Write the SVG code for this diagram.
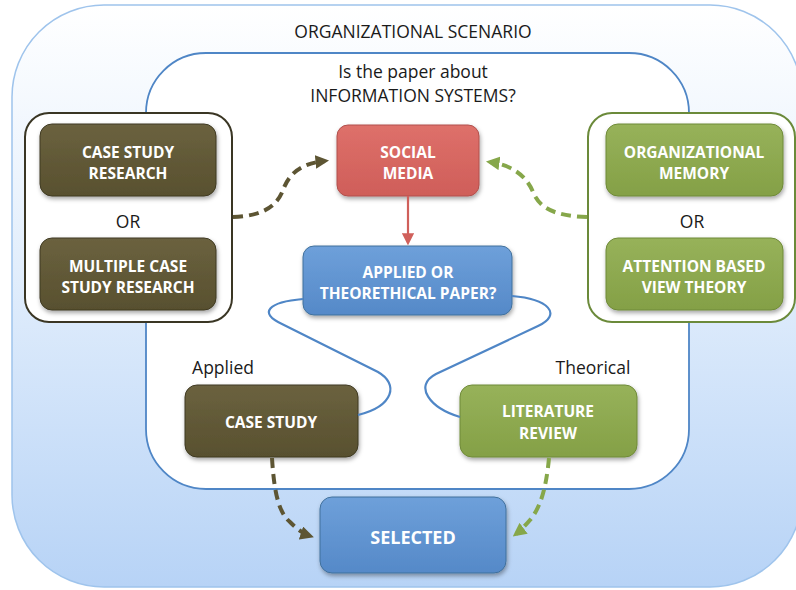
<svg xmlns="http://www.w3.org/2000/svg" width="796" height="590" viewBox="0 0 796 590">
<style>
.lbl{font-family:"Open Sans","Liberation Sans",sans-serif;font-size:17.5px;fill:#1a1a1a;text-anchor:middle}
.bt{font-family:"Open Sans","Liberation Sans",sans-serif;font-weight:bold;font-size:15.5px;fill:#ffffff;text-anchor:middle}
.dark{fill:url(#gDark);stroke:#3f3a22;stroke-width:1}
.green{fill:url(#gGreen);stroke:#6f8a38;stroke-width:1}
.blue{fill:url(#gBlue);stroke:#41719c;stroke-width:1}
.red{fill:url(#gRed);stroke:#b0504c;stroke-width:1}
.curve{fill:none;stroke:#4f86c6;stroke-width:2.2}
.dd{fill:none;stroke:#5d5533;stroke-width:4;stroke-dasharray:10 6}
.dg{fill:none;stroke:#86a74a;stroke-width:4;stroke-dasharray:10 6}
</style>
<defs>
<linearGradient id="gOuter" x1="0" y1="0" x2="0" y2="1">
<stop offset="0" stop-color="#ffffff"/><stop offset="0.45" stop-color="#e2eefc"/><stop offset="1" stop-color="#b7d3f6"/>
</linearGradient>
<linearGradient id="gDark" x1="0" y1="0" x2="0" y2="1"><stop offset="0" stop-color="#6b623f"/><stop offset="1" stop-color="#58502f"/></linearGradient>
<linearGradient id="gGreen" x1="0" y1="0" x2="0" y2="1"><stop offset="0" stop-color="#97b25a"/><stop offset="1" stop-color="#84a046"/></linearGradient>
<linearGradient id="gBlue" x1="0" y1="0" x2="0" y2="1"><stop offset="0" stop-color="#6ea0da"/><stop offset="1" stop-color="#5589c8"/></linearGradient>
<linearGradient id="gRed" x1="0" y1="0" x2="0" y2="1"><stop offset="0" stop-color="#de706a"/><stop offset="1" stop-color="#cf5e59"/></linearGradient>
<filter id="sh" x="-10%" y="-10%" width="125%" height="135%"><feDropShadow dx="1" dy="2.5" stdDeviation="2" flood-color="#000" flood-opacity="0.35"/></filter>
<marker id="aD" viewBox="0 0 10 10" refX="7" refY="5" markerWidth="3.4" markerHeight="3.4" orient="auto" markerUnits="strokeWidth"><path d="M0,0 L10,5 L0,10 Z" fill="#5d5533"/></marker>
<marker id="aG" viewBox="0 0 10 10" refX="7" refY="5" markerWidth="3.4" markerHeight="3.4" orient="auto" markerUnits="strokeWidth"><path d="M0,0 L10,5 L0,10 Z" fill="#86a74a"/></marker>
<marker id="aR" viewBox="0 0 10 10" refX="8" refY="5" markerWidth="5.5" markerHeight="5.5" orient="auto" markerUnits="strokeWidth"><path d="M0,0 L10,5 L0,10 Z" fill="#d0605b"/></marker>
</defs>

<g id="scenario">
<rect x="12" y="5" width="790" height="582" rx="92" fill="url(#gOuter)" stroke="#9fc4ec" stroke-width="1.5"/>
<text class="lbl" x="413" y="38">ORGANIZATIONAL SCENARIO</text>
</g>
<g id="infosys">
<rect x="146" y="53" width="543" height="436" rx="60" fill="#ffffff" stroke="#4f86c6" stroke-width="1.8"/>
<text class="lbl" x="413" y="78">Is the paper about</text>
<text class="lbl" x="413" y="102">INFORMATION SYSTEMS?</text>
</g>

<g id="leftgroup">
<rect x="25" y="113" width="207" height="209" rx="24" fill="#ffffff" stroke="#3a3624" stroke-width="2"/>
<text class="lbl" x="128" y="228">OR</text>
</g>
<g id="csr"><rect class="dark" filter="url(#sh)" x="40" y="124" width="176" height="72" rx="12"/>
<text class="bt" x="128" y="158">CASE STUDY</text><text class="bt" x="128" y="179">RESEARCH</text></g>
<g id="mcsr"><rect class="dark" filter="url(#sh)" x="40" y="238" width="176" height="72" rx="12"/>
<text class="bt" x="128" y="272">MULTIPLE CASE</text><text class="bt" x="128" y="293">STUDY RESEARCH</text></g>

<g id="rightgroup">
<rect x="588" y="113" width="207" height="209" rx="24" fill="#ffffff" stroke="#6b8a3a" stroke-width="2"/>
<text class="lbl" x="692" y="228">OR</text>
</g>
<g id="orgmem"><rect class="green" filter="url(#sh)" x="606" y="124" width="177" height="72" rx="12"/>
<text class="bt" x="694" y="158">ORGANIZATIONAL</text><text class="bt" x="694" y="179">MEMORY</text></g>
<g id="abv"><rect class="green" filter="url(#sh)" x="606" y="238" width="177" height="72" rx="12"/>
<text class="bt" x="694" y="272">ATTENTION BASED</text><text class="bt" x="694" y="293">VIEW THEORY</text></g>

<g id="social"><rect class="red" filter="url(#sh)" x="337" y="125" width="142" height="71" rx="11"/>
<text class="bt" x="408" y="158">SOCIAL</text><text class="bt" x="408" y="179">MEDIA</text></g>

<g id="applied"><rect class="blue" filter="url(#sh)" x="303" y="246" width="209" height="69" rx="11"/>
<text class="bt" x="408" y="278">APPLIED OR</text><text class="bt" x="408" y="299">THEORETHICAL PAPER?</text></g>

<g id="casestudy"><rect class="dark" filter="url(#sh)" x="185" y="385" width="173" height="72" rx="12"/>
<text class="bt" x="271" y="428">CASE STUDY</text></g>
<text class="lbl" x="223" y="374">Applied</text>

<g id="litreview"><rect class="green" filter="url(#sh)" x="460" y="385" width="177" height="72" rx="12"/>
<text class="bt" x="548" y="417">LITERATURE</text><text class="bt" x="548" y="439">REVIEW</text></g>
<text class="lbl" x="593" y="374">Theorical</text>

<g id="selected"><rect class="blue" filter="url(#sh)" x="320" y="497" width="186" height="76" rx="12"/>
<text class="bt" x="413" y="544" style="font-size:18px">SELECTED</text></g>

<g id="connectors">
<path class="curve" d="M303,299 C268,302 258,313 282,324 L378,372 C399,384 394,406 358,415"/>
<path class="curve" d="M512,296 C548,299 563,314 538,326 L436,374 C413,386 430,408 460,417"/>
<path d="M408,196 L408,243" fill="none" stroke="#d0605b" stroke-width="2.2" marker-end="url(#aR)"/>
<path class="dd" marker-end="url(#aD)" d="M233,217 C263,216 277,206 283,190 C290,171 304,163 325,161"/>
<path class="dg" marker-end="url(#aG)" d="M587,217 C556,216 540,209 533,192 C526,175 511,165 490,162"/>
<path class="dd" marker-end="url(#aD)" d="M272,458 C274,490 278,512 290,522 C298,530 304,534 310,536"/>
<path class="dg" marker-end="url(#aG)" d="M549,458 C546,490 540,508 530,520 C524,527 520,531 516,534"/>
</g>
</svg>
